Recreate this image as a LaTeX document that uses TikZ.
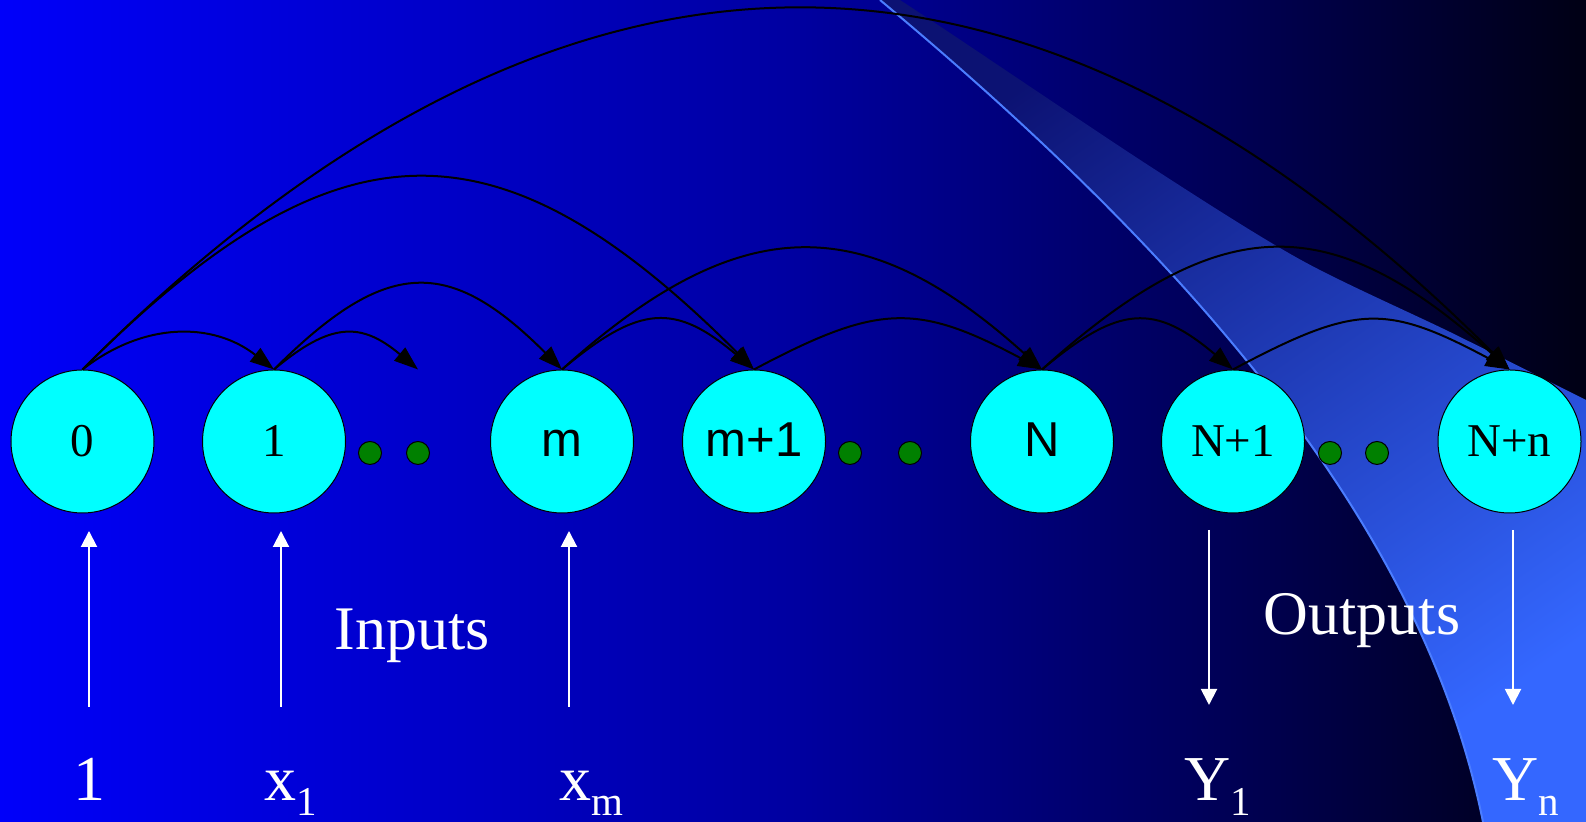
\documentclass[tikz,border=0pt]{standalone}
\usepackage{fontspec}
\setmainfont{Liberation Serif}
\newfontfamily\arialfont{Liberation Sans}
\usetikzlibrary{arrows.meta,calc}

\definecolor{nodecyan}{RGB}{0,255,255}
\definecolor{dotgreen}{RGB}{0,128,0}
\definecolor{swooshtop}{RGB}{12,18,115}
\definecolor{swooshmid}{RGB}{42,85,225}
\definecolor{swooshbot}{RGB}{52,103,255}
\definecolor{swooshedge}{RGB}{75,125,255}

% slide background, blue to near black
\pgfdeclarehorizontalshading{slidebg}{100bp}{rgb(0bp)=(0,0,0.98); rgb(25bp)=(0,0,0.98); rgb(50bp)=(0,0,0.63); rgb(62.5bp)=(0,0,0.36); rgb(75bp)=(0,0,0.08); rgb(100bp)=(0,0,0.08)}

\newcommand{\lowsub}[1]{\raisebox{-7.5pt}{\fontsize{20.5}{20.5}\selectfont #1}}

\begin{document}
\begin{tikzpicture}[x=0.5pt, y=0.5pt,
  neuron/.style={circle, draw=black, line width=0.5pt, fill=nodecyan, minimum size=71.5pt, inner sep=0pt, text height=15.5pt, text depth=0pt},
  serifnum/.style={font=\fontsize{23.5}{23.5}\selectfont},
  sansnum/.style={font=\arialfont\fontsize{24.5}{24.5}\selectfont},
  gdot/.style={circle, draw=black, line width=0.5pt, fill=dotgreen, minimum size=11.5pt, inner sep=0pt},
  link/.style={line width=1pt, -{Triangle[length=12pt,width=8.5pt]}},
  ioarrow/.style={white, line width=1pt, -{Triangle[length=8pt,width=8pt]}},
  iolabel/.style={white, inner sep=0pt, anchor=base, font=\fontsize{32}{32}\selectfont},
  bigword/.style={white, inner sep=0pt, anchor=base, font=\fontsize{31}{31}\selectfont}]

  \useasboundingbox (0,0) rectangle (1586,822);

  % Background
  \shade[shading=slidebg] (0,0) rectangle (1586,822);

  % Swoosh
  \shade[top color=swooshtop, middle color=swooshmid, bottom color=swooshbot, shading angle=35]
    (880,822) .. controls (1240,522) and (1430,262) .. (1483,0)
    -- (1586,0)
    -- plot[smooth] coordinates {(1586,422) (1452,489) (1301,562) (1151,655) (950,789) (900,822)} -- cycle;
  \draw[swooshedge, line width=1pt] (880,822) .. controls (1240,522) and (1430,262) .. (1483,0);

  % Neurons
  \node[neuron, serifnum] (n0) at (82.5,380.5) {0};
  \node[neuron, serifnum] (n1) at (274,380.5) {1};
  \node[neuron, sansnum] (nm) at (562,380.5) {m};
  \node[neuron, sansnum] (nm1) at (754,380.5) {m+1};
  \node[neuron, sansnum] (nN) at (1042,380.5) {N};
  \node[neuron, serifnum] (nN1) at (1233,380.5) {N+1};
  \node[neuron, serifnum] (nNn) at (1509.5,380.5) {N+n};

  % Dots
  \node[gdot] (d1a) at (370,369) {};
  \node[gdot] (d1b) at (418,369) {};
  \node[gdot] (d2a) at (850,369) {};
  \node[gdot] (d2b) at (910,369) {};
  \node[gdot] (d3a) at (1330,369) {};
  \node[gdot] (d3b) at (1377,369) {};

  % Connections
  \draw[link] (n0.north) to[out=38, in=142, looseness=1.04] (n1.north);
  \draw[link] (n0.north) to[out=45, in=135, looseness=1.38] (nm1.north);
  \draw[link] (n0.north) to[out=45, in=135, looseness=1.22] (nNn.north);
  \draw[link] (n1.north) to[out=40, in=140, looseness=1.32] (d1b |- n1.north);
  \draw[link] (n1.north) to[out=45, in=135, looseness=1.42] (nm.north);
  \draw[link] (nm.north) to[out=40, in=140, looseness=1.37] (nm1.north);
  \draw[link] (nm.north) to[out=42, in=138, looseness=1.28] (nN.north);
  \draw[link] (nm1.north) to[out=28, in=152, looseness=1.26] (nN.north);
  \draw[link] (nN.north) to[out=40, in=140, looseness=1.37] (nN1.north);
  \draw[link] (nN.north) to[out=42, in=138, looseness=1.32] (nNn.north);
  \draw[link] (nN1.north) to[out=28, in=152, looseness=1.30] (nNn.north);

  % Inputs
  \foreach \nm/\x in {in0/89, in1/281, inm/569} {
    \coordinate (\nm-bot) at (\x,115);
    \coordinate (\nm-top) at (\x,291);
    \draw[ioarrow] (\nm-bot) -- (\nm-top);
  }
  \node[bigword] (inputs) at (412,172) {Inputs};
  \node[iolabel] (lone) at (89,21) {1};
  \node[iolabel] (lx1) at (291,21) {x\lowsub{1}};
  \node[iolabel] (lxm) at (591.5,21) {x\lowsub{m}};

  % Outputs
  \foreach \nm/\x in {out1/1209, outn/1513} {
    \coordinate (\nm-top) at (\x,292);
    \coordinate (\nm-bot) at (\x,117);
    \draw[ioarrow] (\nm-top) -- (\nm-bot);
  }
  \node[bigword] (outputs) at (1362,187) {Outputs};
  \node[iolabel] (ly1) at (1217.5,21) {Y\lowsub{1}};
  \node[iolabel] (lyn) at (1525.5,21) {Y\lowsub{n}};
\end{tikzpicture}
\end{document}
